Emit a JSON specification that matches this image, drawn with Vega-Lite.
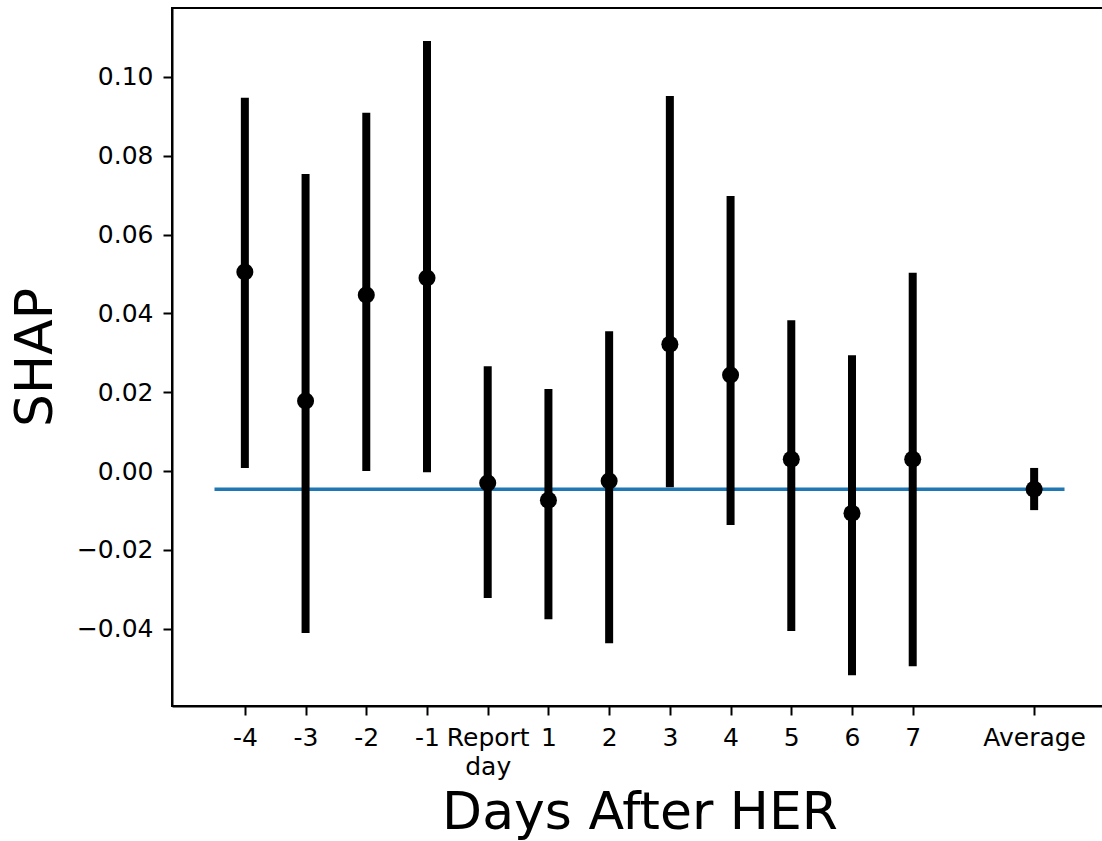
{
  "$schema": "https://vega.github.io/schema/vega-lite/v6.json",
  "autosize": "none",
  "width": 935,
  "height": 698,
  "padding": {"left": 172, "top": 8, "right": 0, "bottom": 135},
  "background": "white",
  "config": {
    "font": "DejaVu Sans",
    "view": {"stroke": "black", "strokeWidth": 2},
    "axis": {
      "grid": false,
      "domainColor": "black",
      "domainWidth": 2,
      "tickColor": "black",
      "tickWidth": 2,
      "tickSize": 9,
      "labelFont": "DejaVu Sans",
      "labelFontSize": 25,
      "labelColor": "black",
      "titleFont": "DejaVu Sans",
      "titleFontWeight": "normal",
      "titleColor": "black"
    }
  },
  "datasets": {
    "points": [
      {"day": "-4", "x": 0, "shap": 0.0505, "lo": 0.0008, "hi": 0.0947},
      {"day": "-3", "x": 1, "shap": 0.0178, "lo": -0.0411, "hi": 0.0754},
      {"day": "-2", "x": 2, "shap": 0.0447, "lo": 0.0, "hi": 0.0909},
      {"day": "-1", "x": 3, "shap": 0.049, "lo": -0.0003, "hi": 0.1091},
      {"day": "Report day", "x": 4, "shap": -0.003, "lo": -0.0322, "hi": 0.0266},
      {"day": "1", "x": 5, "shap": -0.0074, "lo": -0.0376, "hi": 0.0208},
      {"day": "2", "x": 6, "shap": -0.0025, "lo": -0.0437, "hi": 0.0355},
      {"day": "3", "x": 7, "shap": 0.0322, "lo": -0.0041, "hi": 0.0952},
      {"day": "4", "x": 8, "shap": 0.0244, "lo": -0.0137, "hi": 0.0698},
      {"day": "5", "x": 9, "shap": 0.003, "lo": -0.0406, "hi": 0.0383},
      {"day": "6", "x": 10, "shap": -0.0107, "lo": -0.0518, "hi": 0.0294},
      {"day": "7", "x": 11, "shap": 0.003, "lo": -0.0495, "hi": 0.0503},
      {"day": "Average", "x": 13, "shap": -0.0046, "lo": -0.0099, "hi": 0.0008}
    ],
    "avgline": [
      {"x": -0.5, "x2": 13.5, "y": -0.0046}
    ]
  },
  "layer": [
    {
      "data": {"name": "avgline"},
      "mark": {"type": "rule", "color": "#1f77b4", "strokeWidth": 3.5},
      "encoding": {
        "x": {"field": "x", "type": "quantitative", "scale": {"domain": [-1.2, 14.2], "nice": false, "zero": false},
          "axis": {
            "title": "Days After HER",
            "titleFontSize": 52,
            "titlePadding": 8,
            "values": [0,1,2,3,4,5,6,7,8,9,10,11,13],
            "labelPadding": 10,
            "labelLineHeight": 29,
            "labelExpr": "['-4','-3','-2','-1',['Report','day'],'1','2','3','4','5','6','7','','Average'][datum.value]"
          }
        },
        "x2": {"field": "x2"},
        "y": {"field": "y", "type": "quantitative", "scale": {"domain": [-0.0596, 0.1175], "nice": false, "zero": false},
          "axis": {
            "title": "SHAP",
            "titleFontSize": 52,
            "titlePadding": 14,
            "values": [-0.04, -0.02, 0, 0.02, 0.04, 0.06, 0.08, 0.10],
            "format": ".2f",
            "labelPadding": 10
          }
        }
      }
    },
    {
      "data": {"name": "points"},
      "mark": {"type": "rule", "color": "black", "strokeWidth": 8},
      "encoding": {
        "x": {"field": "x", "type": "quantitative"},
        "y": {"field": "lo", "type": "quantitative"},
        "y2": {"field": "hi"}
      }
    },
    {
      "data": {"name": "points"},
      "mark": {"type": "circle", "color": "black", "opacity": 1, "size": 290},
      "encoding": {
        "x": {"field": "x", "type": "quantitative"},
        "y": {"field": "shap", "type": "quantitative"}
      }
    }
  ]
}
